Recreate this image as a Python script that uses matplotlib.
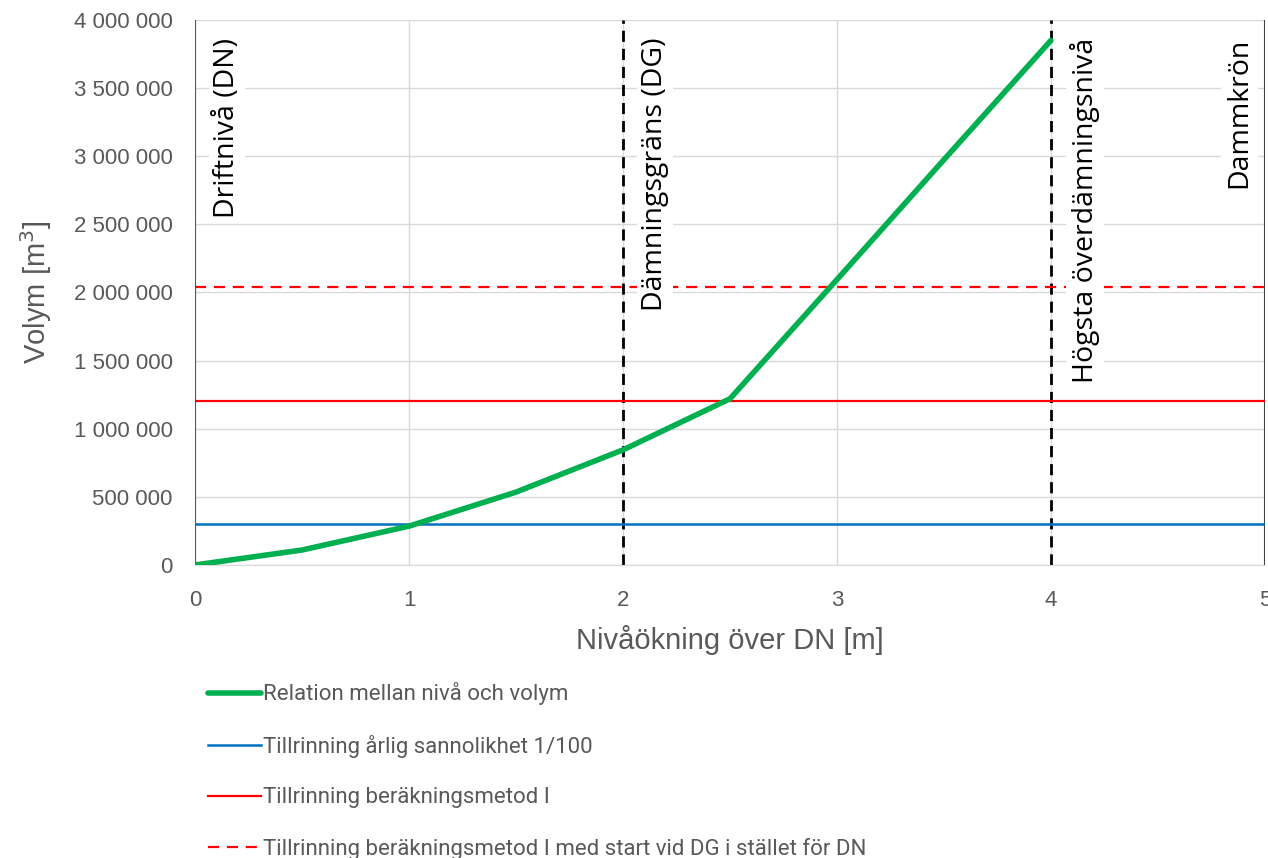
import matplotlib
matplotlib.use("Agg")
import matplotlib.pyplot as plt
from matplotlib.ticker import FuncFormatter

# ── Data ──────────────────────────────────────────────────────────
niva = [0, 0.5, 1, 1.5, 2, 2.5, 3, 3.5, 4]
volym = [0, 110000, 285000, 535000, 845000, 1220000, 2095000, 2975000, 3850000]

tillr_100 = 300000
tillr_metod_i = 1200000
tillr_metod_i_dg = 2040000

markers_x = [0, 2, 4, 5]
marker_labels = ["Driftnivå (DN)", "Dämningsgräns (DG)", "Högsta överdämningsnivå", "Dammkrön"]

legend_labels = [
    "Relation mellan nivå och volym",
    "Tillrinning årlig sannolikhet 1/100",
    "Tillrinning beräkningsmetod I",
    "Tillrinning beräkningsmetod I med start vid DG i stället för DN",
]

GREY = "#595959"
plt.rcParams["font.family"] = ["Liberation Sans", "DejaVu Sans"]

fig = plt.figure(figsize=(12.68, 8.58), dpi=100)
ax = fig.add_axes([0.1538, 0.3415, 0.9976 - 0.1538, 0.9767 - 0.3415])

ax.set_xlim(0, 5)
ax.set_ylim(0, 4000000)
ax.set_xticks(range(0, 6))
ax.set_yticks(range(0, 4000001, 500000))
ax.grid(True, color="#d9d9d9", lw=1.0, zorder=0)
ax.set_axisbelow(True)

for s in ["top", "right", "left"]:
    ax.spines[s].set_visible(False)
ax.spines["bottom"].set_color("#d9d9d9")
ax.tick_params(length=0, labelsize=16, labelcolor=GREY)
ax.tick_params(axis="x", pad=18)
ax.tick_params(axis="y", pad=16)
ax.yaxis.set_major_formatter(FuncFormatter(lambda v, _: f"{int(v):,}".replace(",", " ")))

# reference lines
ax.axvline(markers_x[0], color="#3d6b35", lw=1.5, zorder=2)
ax.axvline(markers_x[3], color="#404040", lw=1.5, zorder=2)
for xv in markers_x[1:3]:
    ax.axvline(xv, color="black", lw=2, ls=(0, (4, 2.5)), zorder=2)

h_green, = ax.plot(niva, volym, color="#00b050", lw=4, zorder=4,
                   solid_capstyle="round", label=legend_labels[0])
h_blue = ax.axhline(tillr_100, color="#0070c0", lw=1.8, zorder=3, label=legend_labels[1])
h_red = ax.axhline(tillr_metod_i, color="#ff0000", lw=1.6, zorder=3, label=legend_labels[2])
h_red_d = ax.axhline(tillr_metod_i_dg, color="#ff0000", lw=1.6, ls=(0, (5, 3.5)),
                     zorder=3, label=legend_labels[3])

# vertical labels with white boxes
offsets = [0.15, 0.15, 0.16, -0.12]
for xv, lab, off in zip(markers_x, marker_labels, offsets):
    ax.text(xv + off, 3870000, lab, rotation=90, ha="center", va="top",
            fontsize=20.5, family="Open Sans", color="black", zorder=5,
            bbox=dict(facecolor="white", edgecolor="none", pad=3))

ax.set_xlabel("Nivåökning över DN [m]", fontsize=21, color=GREY, labelpad=10)
ax.set_ylabel("Volym [m$^3$]", fontsize=21, color=GREY, labelpad=14)

leg = fig.legend(handles=[h_green, h_blue, h_red, h_red_d], loc="upper left",
                 bbox_to_anchor=(0.148, 0.228), frameon=False, ncol=1,
                 handlelength=2.4, handletextpad=0.1, labelspacing=1.33,
                 prop={"family": ["Roboto", "DejaVu Sans"], "size": 16})
for t in leg.get_texts():
    t.set_color(GREY)

fig.savefig("out.png", dpi=100)
